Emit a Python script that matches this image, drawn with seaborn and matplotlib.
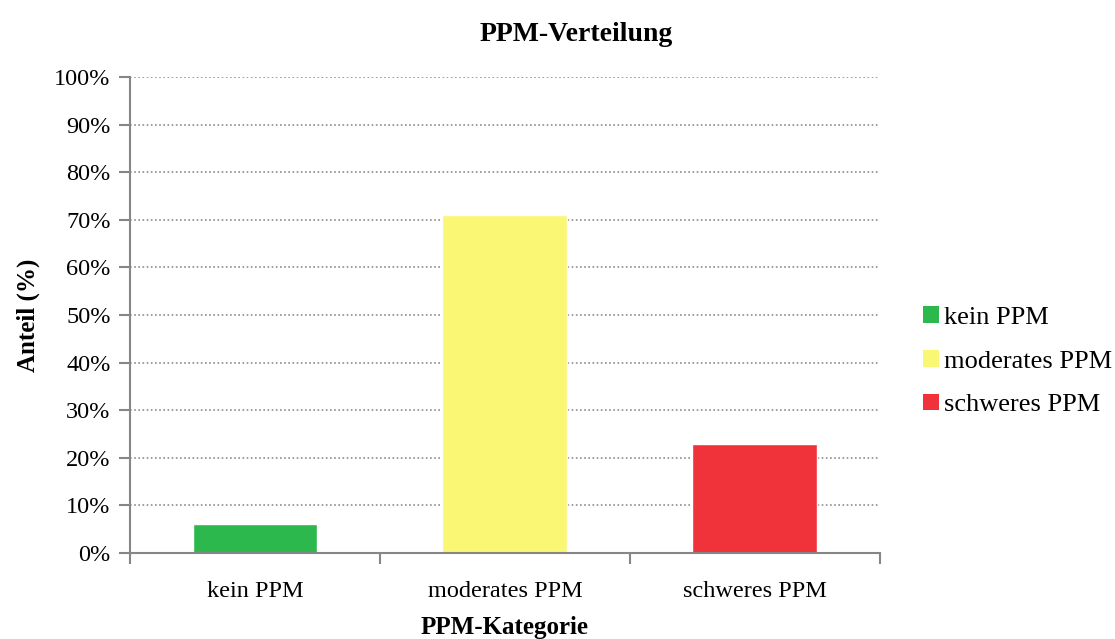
import matplotlib
matplotlib.use("Agg")
from matplotlib import pyplot as plt
from matplotlib.ticker import FixedLocator, PercentFormatter
from matplotlib.patches import Patch
import seaborn as sns

categories = ["kein PPM", "moderates PPM", "schweres PPM"]
anteil = [6.1, 71.1, 22.8]
farben = ["#2DB84D", "#FAF774", "#F0333A"]
y_ticks = list(range(0, 101, 10))

sns.set_style("white")
plt.rcParams["font.family"] = ["Liberation Serif", "DejaVu Serif"]
plt.rcParams["text.color"] = "black"
plt.rcParams["axes.labelcolor"] = "black"
plt.rcParams["xtick.color"] = "black"
plt.rcParams["ytick.color"] = "black"

fig = plt.figure(figsize=(11.15, 6.39), dpi=100)
ax = fig.add_axes([0.1166, 0.1346, 0.6726, 0.7449])

sns.barplot(x=categories, y=anteil, hue=categories, palette=farben,
            width=0.5, saturation=1, legend=False, ax=ax)

ax.set_xlim(-0.5, 2.5)
ax.set_ylim(0, 100)
ax.set_yticks(y_ticks)
ax.yaxis.set_major_formatter(PercentFormatter(decimals=0))
ax.yaxis.grid(True, linestyle=(0, (1, 1.5)), color="#8c8c8c", linewidth=1.2)
ax.set_axisbelow(True)

for s in ["top", "right"]:
    ax.spines[s].set_visible(False)
for s in ["left", "bottom"]:
    ax.spines[s].set_color("#868686")
    ax.spines[s].set_linewidth(1.5)

ax.tick_params(axis="y", left=True, length=8, width=1.5, color="#868686",
               labelsize=17.5, pad=6, labelcolor="black")
ax.tick_params(axis="x", bottom=False, labelsize=17.5, pad=17,
               labelcolor="black")
ax.xaxis.set_minor_locator(FixedLocator([-0.5, 0.5, 1.5, 2.5]))
ax.tick_params(axis="x", which="minor", bottom=True, length=8, width=1.5,
               color="#868686")

ax.set_xlabel("PPM-Kategorie", fontsize=18, fontweight="bold", labelpad=10)
ax.set_ylabel("Anteil (%)", fontsize=18, fontweight="bold", labelpad=10)
fig.suptitle("PPM-Verteilung", fontsize=20, fontweight="bold", y=0.965,
             x=0.5165)

handles = [Patch(facecolor=c, edgecolor="none") for c in farben]
ax.legend(handles, categories, loc="center left", bbox_to_anchor=(1.043, 0.403),
          frameon=False, fontsize=19, handlelength=0.6, handleheight=0.6,
          handletextpad=0.2, labelspacing=0.8, borderaxespad=0)

fig.savefig("out.png", dpi=100)
